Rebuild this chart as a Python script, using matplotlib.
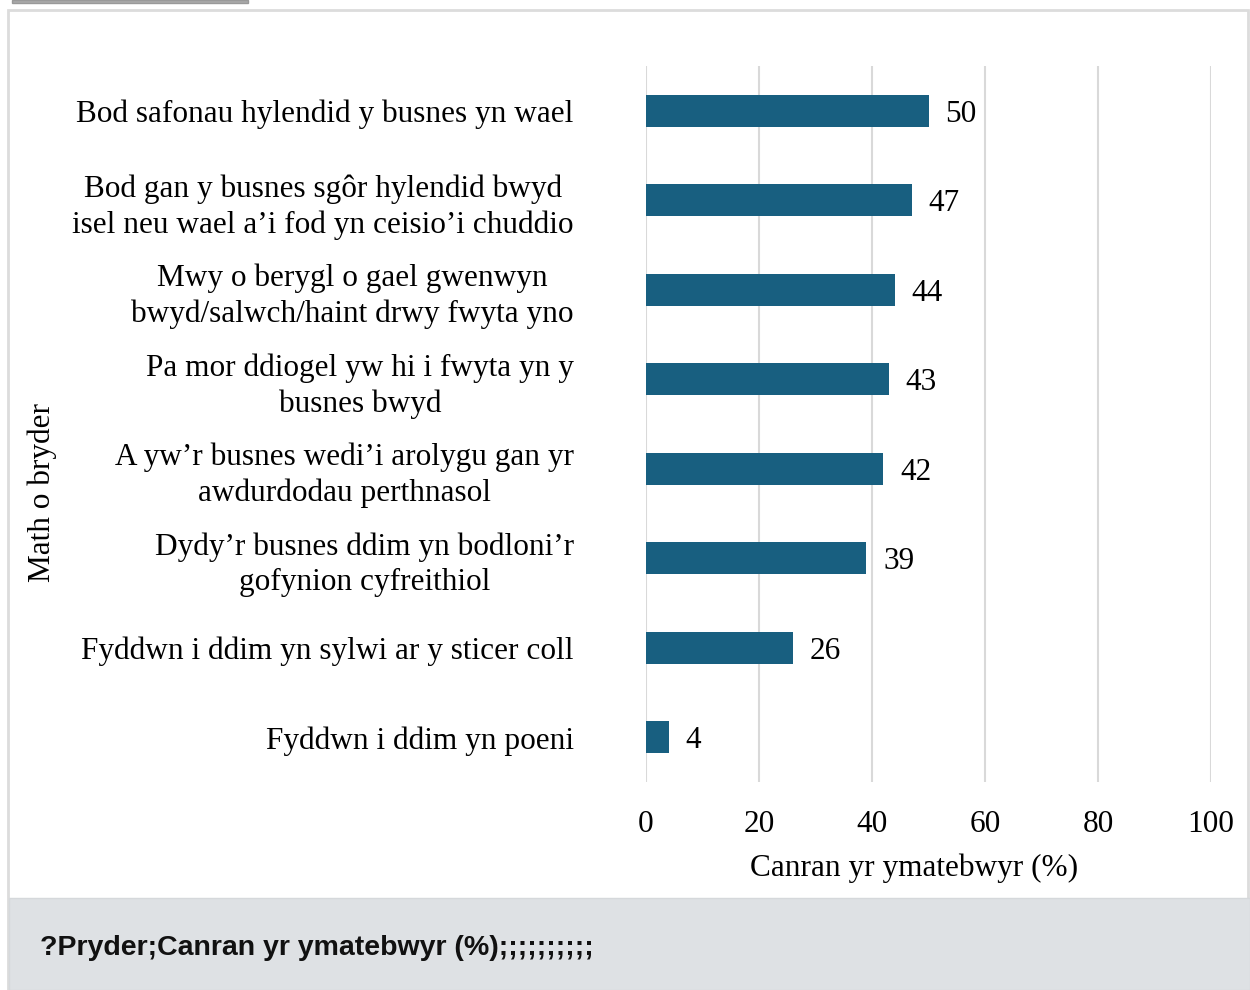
import matplotlib.pyplot as plt
from matplotlib.patches import Rectangle

# data
categories = [
    'Bod safonau hylendid y busnes yn wael',
    'Bod gan y busnes sgôr hylendid bwyd\nisel neu wael a’i fod yn ceisio’i chuddio',
    'Mwy o berygl o gael gwenwyn\nbwyd/salwch/haint drwy fwyta yno',
    'Pa mor ddiogel yw hi i fwyta yn y\nbusnes bwyd',
    'A yw’r busnes wedi’i arolygu gan yr\nawdurdodau perthnasol',
    'Dydy’r busnes ddim yn bodloni’r\ngofynion cyfreithiol',
    'Fyddwn i ddim yn sylwi ar y sticer coll',
    'Fyddwn i ddim yn poeni',
]
values = [50, 47, 44, 43, 42, 39, 26, 4]
xticks = [0, 20, 40, 60, 80, 100]

plt.rcParams['font.family'] = ['Liberation Serif', 'DejaVu Serif']

fig = plt.figure(figsize=(12.5, 9.9), dpi=100)

# panel frame, top tab and bottom grey band (behind the axes)
fig.patches.append(Rectangle((12/1250, 1-3/990), 236/1250, 3/990, transform=fig.transFigure,
                             facecolor='#aaaaaa', edgecolor='#999999', lw=1, zorder=-2))
fig.patches.append(Rectangle((8/1250, 0), 1240/1250, 980/990, transform=fig.transFigure,
                             facecolor='white', edgecolor='#dcdcdc', lw=2, zorder=-2))
fig.patches.append(Rectangle((9/1250, 0), 1241/1250, 92/990, transform=fig.transFigure,
                             facecolor='#dee1e4', edgecolor='#d5d8db', lw=1, zorder=-1))
fig.text(40/1250, 1-948/990, '?Pryder;Canran yr ymatebwyr (%);;;;;;;;;;', family='Liberation Sans',
         fontweight='bold', fontsize=20.5, ha='left', va='center', color='#111111')

ax = fig.add_axes([646/1250, 208/990, 565/1250, 716/990])
ax.patch.set_alpha(0)
ypos = list(range(len(categories)))
bars = ax.barh(ypos, values, height=0.36, color='#185f80', zorder=3)
vlabels = ax.bar_label(bars, labels=[str(v) for v in values], padding=12, fontsize=22.5)
for t in vlabels:
    t.set_va('center_baseline')

ax.set_xlim(0, 100)
ax.set_ylim(len(categories) - 0.5, -0.5)
ax.set_xticks(xticks)
ax.set_yticks(ypos)
ax.set_yticklabels(categories, multialignment='center', fontsize=22.5, linespacing=1.28)
ax.tick_params(axis='x', length=0, pad=20, labelsize=22.5)
ax.tick_params(axis='y', length=0, pad=52)
ax.grid(axis='x', color='#d9d9d9', lw=1.5, zorder=0)
for s in ax.spines.values():
    s.set_visible(False)

fig.text(914/1250, 1-868/990, 'Canran yr ymatebwyr (%)', fontsize=22.5, ha='center', va='center')
fig.text(42/1250, 1-493/990, 'Math o bryder', fontsize=22.5, rotation=90, ha='center', va='center')

fig.savefig('out.png', dpi=100)
